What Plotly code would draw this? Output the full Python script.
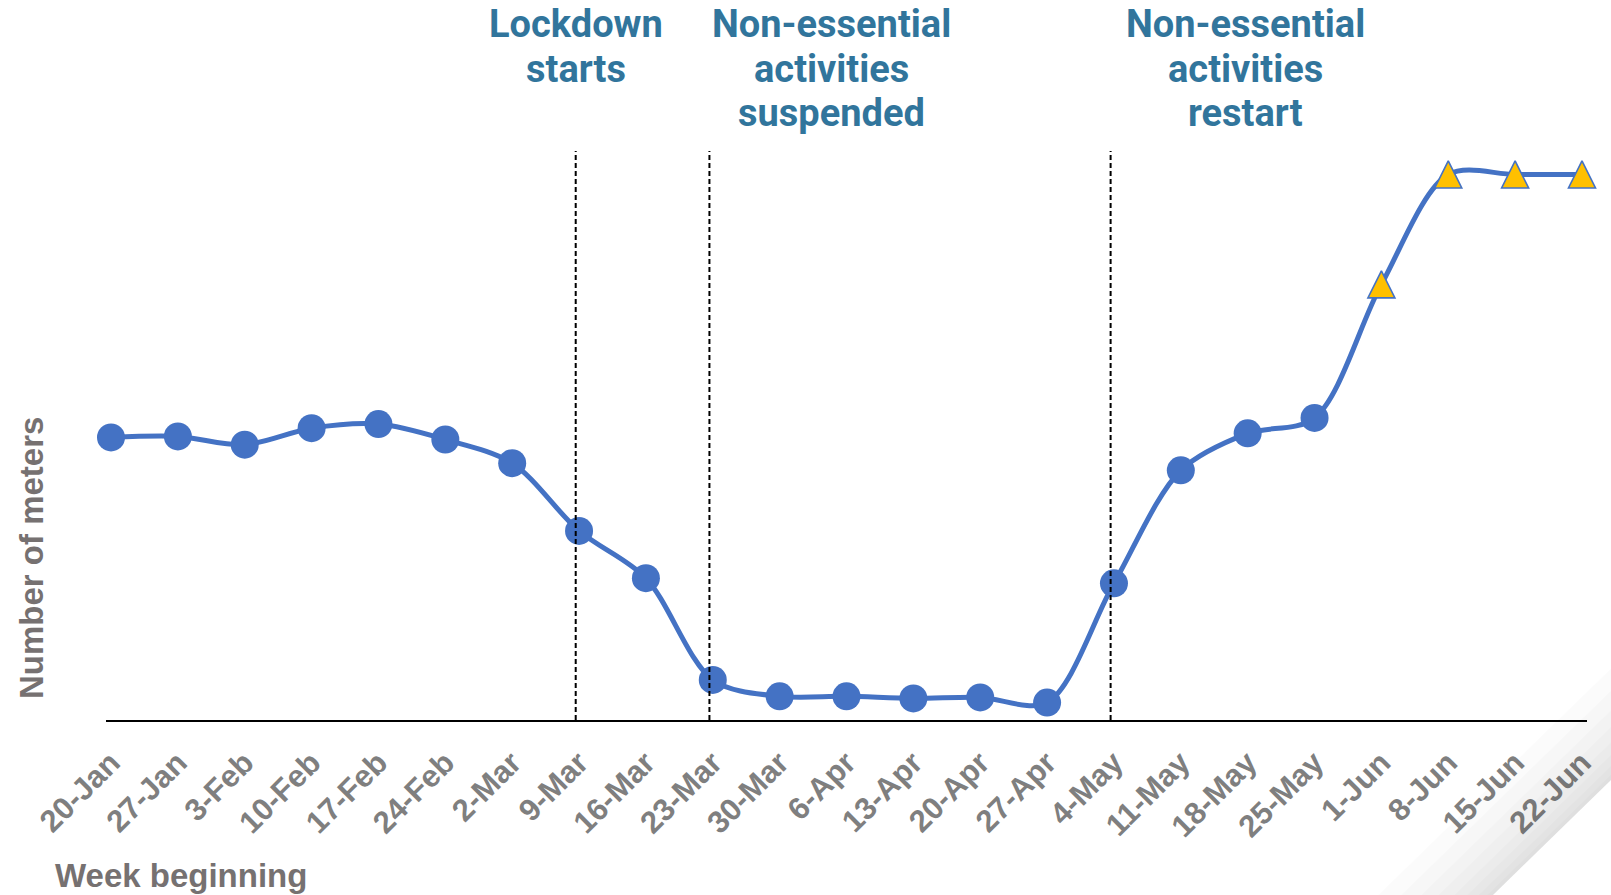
import plotly.graph_objects as go

# ---- data (arbitrary units, no y scale shown) ----
weeks = ["20-Jan", "27-Jan", "3-Feb", "10-Feb", "17-Feb", "24-Feb", "2-Mar", "9-Mar",
         "16-Mar", "23-Mar", "30-Mar", "6-Apr", "13-Apr", "20-Apr", "27-Apr", "4-May",
         "11-May", "18-May", "25-May", "1-Jun", "8-Jun", "15-Jun", "22-Jun"]
meters = [275, 276, 268, 284, 288, 273, 250, 184, 138, 39, 23, 23, 21, 22, 17, 133,
          243, 279, 294, 424, 531, 531, 531]
# weeks from which the marker switches to triangles
triangle_from = "1-Jun"

event_weeks = ["9-Mar", "23-Mar", "4-May"]
event_labels = ["Lockdown<br>starts",
                "Non-essential<br>activities<br>suspended",
                "Non-essential<br>activities<br>restart"]

# ---- layout geometry ----
W, H = 1611, 895
ML, MR, MT, MB = 106, 24, 140, 175
PW, PH = W - ML - MR, H - MT - MB
YMAX = PH / 1.0274

def px_x(p):
    return (p - ML) / PW

def px_y(p):
    return (H - MB - p) / PH

xs = list(range(len(weeks)))
split = weeks.index(triangle_from)
circ_x = xs[:split]
circ_y = meters[:split]
tri_x = xs[split:]
tri_y = meters[split:]

BLUE = "#4472C4"
GOLD = "#FFC000"
TRI_SIZE = 27
# arrow-up symbols have their tip at the anchor; an overlaid axis shifted by
# half the marker height centres the triangle on the value
tri_shift = (TRI_SIZE / 2) / PH * YMAX

fig = go.Figure()
fig.add_trace(go.Scatter(x=xs, y=meters, mode="lines", cliponaxis=False,
                         line=dict(color=BLUE, width=5, shape="spline", smoothing=0.9),
                         hoverinfo="skip", showlegend=False))
fig.add_trace(go.Scatter(x=circ_x, y=circ_y, mode="markers", cliponaxis=False,
                         marker=dict(symbol="circle", size=28, color=BLUE,
                                     line=dict(width=0)),
                         showlegend=False))
fig.add_trace(go.Scatter(x=tri_x, y=tri_y, mode="markers", cliponaxis=False, yaxis="y2",
                         marker=dict(symbol="arrow-up", size=TRI_SIZE, color=GOLD,
                                     line=dict(width=1.6, color=BLUE)),
                         showlegend=False))

shapes = []
for wk in event_weeks:
    xi = weeks.index(wk) - 0.05
    shapes.append(dict(type="line", xref="x", yref="paper", x0=xi, x1=xi,
                       y0=0, y1=px_y(151), layer="above",
                       line=dict(color="black", width=2, dash="5px,3px")))

# page-curl shading in the bottom-right corner
def tri(d):
    ya = 780 - 1.395 * d
    xb = 1493 - 1.434 * d
    return (f"M {px_x(W)} {px_y(ya)} L {px_x(xb)} {px_y(H)} "
            f"L {px_x(W)} {px_y(H)} Z")

for d in [80, 64, 50, 38, 27, 18, 10, 4]:
    shapes.append(dict(type="path", xref="paper", yref="paper", path=tri(d),
                       fillcolor="rgba(0,0,0,0.015)", line=dict(width=0), layer="above"))
shapes.append(dict(type="path", xref="paper", yref="paper", path=tri(0),
                   fillcolor="white", line=dict(width=0), layer="above"))

ANN_FONT = dict(family="Roboto, 'Open Sans', sans-serif", size=38, color="#31759C")
ann_centers = [6.96, 10.78, 16.96]
LINE_GAP = 44.7
annotations = []
for cx, lab in zip(ann_centers, event_labels):
    for i, line in enumerate(lab.split("<br>")):
        annotations.append(dict(x=cx, xref="x", y=px_y(24 + i * LINE_GAP), yref="paper",
                                text=f"<b>{line}</b>", showarrow=False,
                                xanchor="center", yanchor="middle", align="center",
                                font=ANN_FONT))

TITLE_FONT = dict(family="Liberation Sans, Arial, sans-serif", size=33, color="#767171")
annotations.append(dict(x=px_x(53), xref="paper", y=px_y(876), yref="paper",
                        text="<b>Week beginning</b>", showarrow=False,
                        xanchor="left", yanchor="middle", font=TITLE_FONT))
annotations.append(dict(x=px_x(31), xref="paper", y=px_y(558), yref="paper",
                        text="<b>Number of meters</b>", showarrow=False, textangle=-90,
                        xanchor="center", yanchor="middle", font=TITLE_FONT))

fig.update_layout(
    width=W, height=H,
    margin=dict(l=ML, r=MR, t=MT, b=MB, pad=0),
    paper_bgcolor="white", plot_bgcolor="white",
    shapes=shapes, annotations=annotations,
    showlegend=False,
    xaxis=dict(range=[-0.075, 22.075], tickmode="array", tickvals=xs, ticktext=weeks,
               tickangle=-45, showgrid=False, zeroline=False,
               showline=True, linecolor="black", linewidth=2,
               ticks="", ticklabelstandoff=10,
               tickfont=dict(family="Liberation Sans, Arial, sans-serif", size=31,
                             color="#7F7F7F", weight="bold")),
    yaxis=dict(range=[0, YMAX], showgrid=False, zeroline=False,
               showline=False, showticklabels=False, ticks=""),
    yaxis2=dict(range=[-tri_shift, YMAX - tri_shift], overlaying="y", showgrid=False,
                zeroline=False, showline=False, showticklabels=False, ticks=""),
)

fig.write_html("out.html", config={"displayModeBar": False})
